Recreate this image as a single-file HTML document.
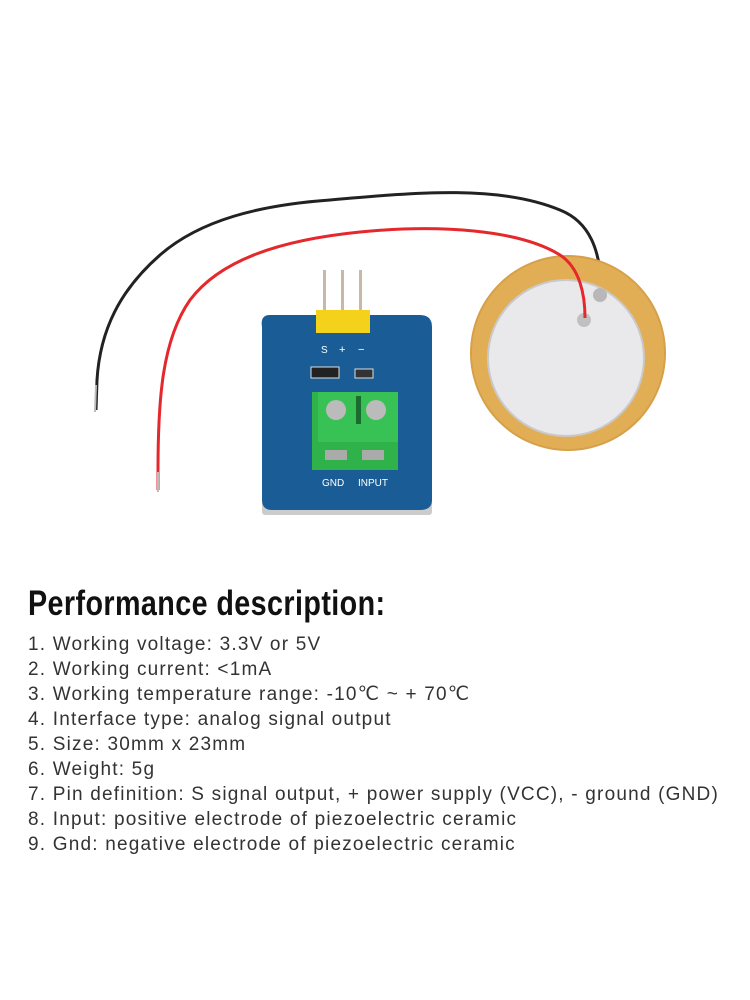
<!DOCTYPE html>
<html><head><meta charset="utf-8"><style>
body{margin:0;background:#fff;width:750px;height:1000px;overflow:hidden;position:relative;font-family:"Liberation Sans",sans-serif}
h1{position:absolute;left:28px;top:584px;margin:0;font-family:"Liberation Sans",sans-serif;font-weight:bold;font-size:35px;color:#111;transform:scaleX(0.82);transform-origin:left;letter-spacing:0.5px;line-height:40px;white-space:nowrap}
ul{position:absolute;left:28px;top:632px;margin:0;padding:0;list-style:none;font-size:19px;color:#333;line-height:25px;letter-spacing:1.2px;white-space:nowrap}
</style></head><body>
<svg width="750" height="560" style="position:absolute;left:0;top:0">
<path d="M96,410 L97,380 C100,330 120,290 160,255 C200,220 260,205 330,200 C420,192 500,185 560,210 C590,222 600,250 602,290" fill="none" stroke="#222" stroke-width="3"/>
<line x1="96" y1="385" x2="95" y2="412" stroke="#bbb" stroke-width="2"/>
<circle cx="568" cy="353" r="98" fill="#d6a04a"/>
<circle cx="568" cy="353" r="96" fill="#e2ae55"/>
<circle cx="566" cy="358" r="78" fill="#e9e9ec" stroke="#c9c9cc" stroke-width="2"/>
<circle cx="600" cy="295" r="7" fill="#b8b8b8"/>
<circle cx="584" cy="320" r="7" fill="#c0c0c0"/>
<path d="M158,490 L158,470 C158,400 162,340 190,300 C220,260 280,240 360,232 C440,224 520,230 560,255 C580,268 585,295 585,318" fill="none" stroke="#e5282b" stroke-width="3"/>
<line x1="158" y1="472" x2="158" y2="492" stroke="#bbb" stroke-width="2"/>
<rect x="262" y="500" width="170" height="15" rx="3" fill="#ccc"/>
<path d="M270,315 H420 Q432,315 432,327 V500 Q432,510 420,510 H272 Q262,510 262,500 V327 Q260,315 270,315Z" fill="#1a5d96"/>
<rect x="323" y="270" width="3" height="45" fill="#c9b8a8"/>
<rect x="341" y="270" width="3" height="45" fill="#c9b8a8"/>
<rect x="359" y="270" width="3" height="45" fill="#c9b8a8"/>
<rect x="316" y="310" width="54" height="23" fill="#f4d21c"/>
<text x="321" y="353" fill="#fff" font-size="10" font-family="Liberation Sans">S</text>
<text x="339" y="353" fill="#fff" font-size="11" font-family="Liberation Sans">+</text>
<text x="358" y="353" fill="#fff" font-size="11" font-family="Liberation Sans">−</text>
<rect x="311" y="367" width="28" height="11" fill="#222" stroke="#ddd"/>
<rect x="355" y="369" width="18" height="9" fill="#333" stroke="#ddd"/>
<rect x="312" y="392" width="86" height="78" fill="#2fb24a"/>
<rect x="318" y="392" width="80" height="50" fill="#38c155"/>
<circle cx="336" cy="410" r="10" fill="#bbb"/>
<circle cx="376" cy="410" r="10" fill="#bbb"/>
<rect x="356" y="396" width="5" height="28" fill="#1b6a2e"/>
<rect x="325" y="450" width="22" height="10" fill="#aaa"/>
<rect x="362" y="450" width="22" height="10" fill="#aaa"/>
<text x="322" y="486" fill="#fff" font-size="10" font-family="Liberation Sans">GND</text>
<text x="358" y="486" fill="#fff" font-size="10" font-family="Liberation Sans">INPUT</text>
</svg>
<h1>Performance description:</h1>
<ul>
<li>1. Working voltage: 3.3V or 5V</li>
<li>2. Working current: &lt;1mA</li>
<li>3. Working temperature range: -10℃ ~ + 70℃</li>
<li>4. Interface type: analog signal output</li>
<li>5. Size: 30mm x 23mm</li>
<li>6. Weight: 5g</li>
<li>7. Pin definition: S signal output, + power supply (VCC), - ground (GND)</li>
<li>8. Input: positive electrode of piezoelectric ceramic</li>
<li>9. Gnd: negative electrode of piezoelectric ceramic</li>
</ul>
</body></html>
